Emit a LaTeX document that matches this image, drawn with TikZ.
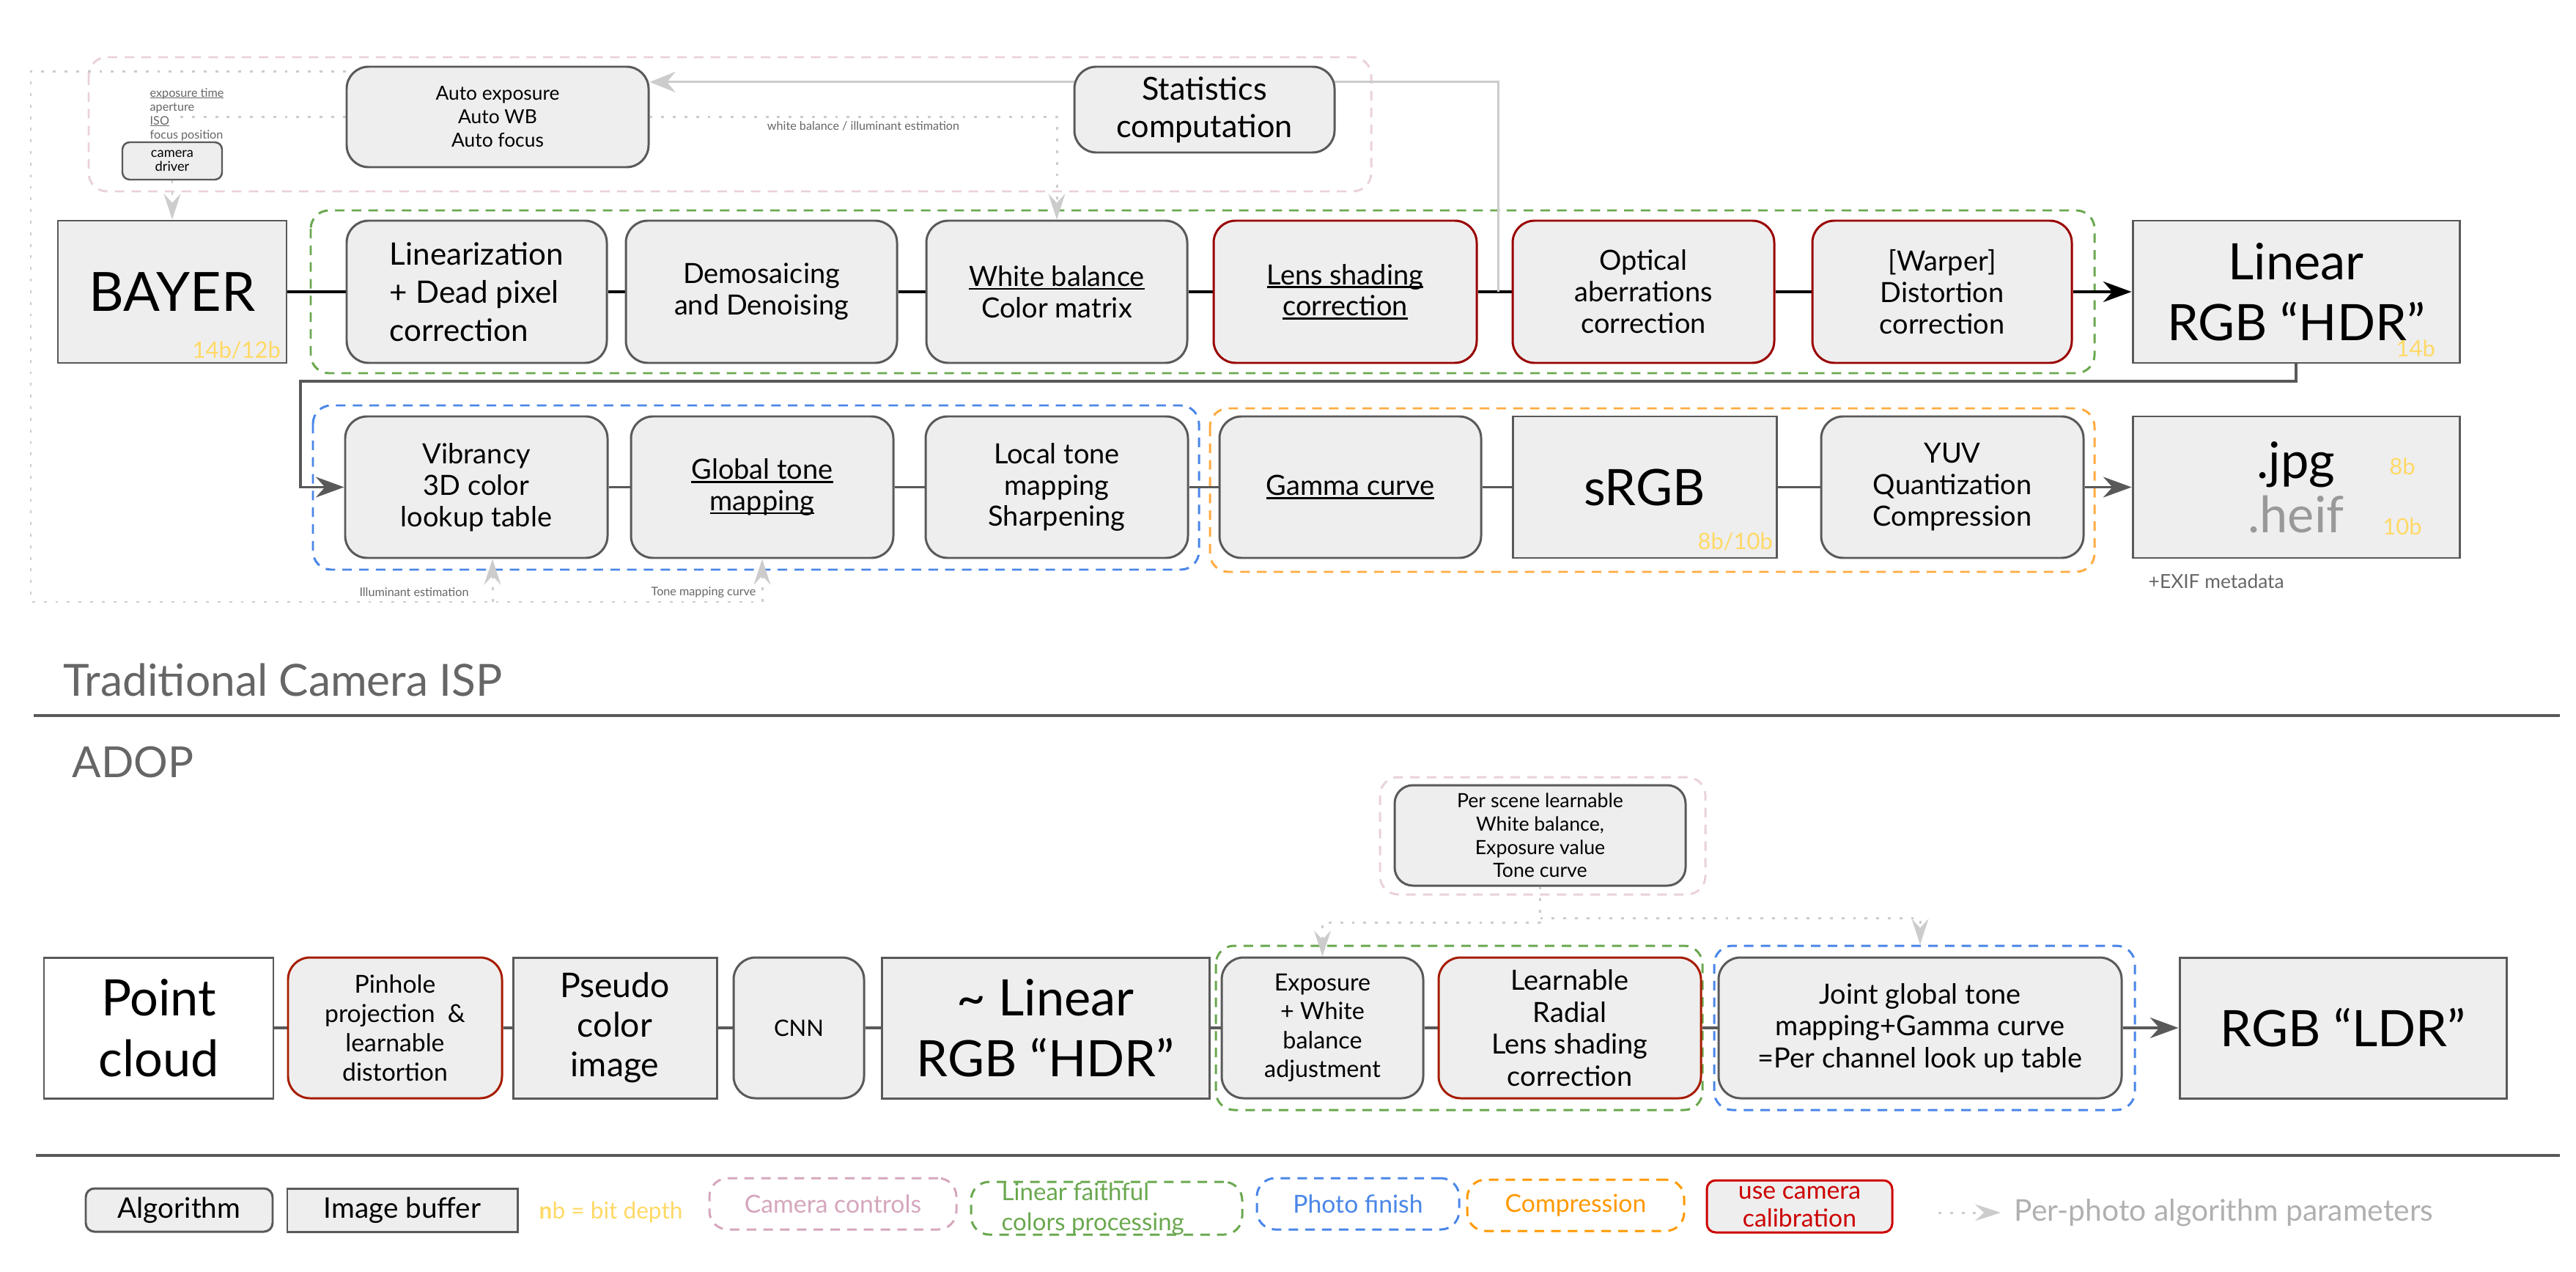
\documentclass[tikz,border=0pt]{standalone}
\usepackage{fontspec}
\setmainfont{Lato}
\usetikzlibrary{positioning,calc,arrows.meta}
\pgfdeclarelayer{bg}
\pgfsetlayers{bg,main}

\definecolor{boxfill}{HTML}{EEEEEE}
\definecolor{boxline}{HTML}{595959}
\definecolor{calred}{HTML}{990000}
\definecolor{calredb}{HTML}{A61C00}
\definecolor{legred}{HTML}{CC0000}
\definecolor{camcol}{HTML}{EAD1DC}
\definecolor{camtxt}{HTML}{D5A6BD}
\definecolor{lincol}{HTML}{6AA84F}
\definecolor{fincol}{HTML}{4A86E8}
\definecolor{cmpcol}{HTML}{FFAB40}
\definecolor{cmptxt}{HTML}{FF9900}
\definecolor{bitcol}{HTML}{FFD966}
\definecolor{parcol}{HTML}{CCCCCC}
\definecolor{partxt}{HTML}{B0B0B0}
\definecolor{txtgray}{HTML}{666666}
\definecolor{heifgray}{HTML}{999999}

\newcommand{\fs}[2]{\fontsize{#1}{#2}\selectfont}
\newsavebox{\undlbox}
\newcommand{\undl}[1]{\sbox\undlbox{#1}\rlap{\rule[-0.13em]{\wd\undlbox}{0.07em}}\usebox\undlbox}

\begin{document}
\begin{tikzpicture}[x=1cm,y=-1cm,
  algo/.style={draw=boxline,fill=boxfill,line width=0.85pt,rounded corners=0.3cm,align=center,inner sep=1pt},
  buf/.style={draw=boxline,fill=boxfill,line width=0.85pt,align=center,inner sep=1pt},
  calib/.style={algo,draw=calred},
  sz/.style 2 args={minimum width=#1cm,minimum height=#2cm},
  grp/.style={line width=0.85pt,dash pattern=on 3.7pt off 2.8pt,rounded corners=0.25cm},
  flow/.style={line width=1.1pt},
  flowhead/.style={-{Stealth[length=11pt,width=8pt]}},
  param/.style={draw=parcol,line width=0.85pt,dash pattern=on 1.1pt off 3.4pt},
  parhead/.style={-{Stealth[length=10pt,width=6.5pt,inset=3.5pt]}},
  bit/.style={text=bitcol,inner sep=0pt,font=\fs{8.8}{10}},
  note/.style={text=txtgray,inner sep=0pt,font=\fs{4.6}{5.4}},
  stdtxt/.style={font=\fs{10.8}{12.2}},
  hdrtxt/.style={font=\fs{19.5}{23.6}}]

\useasboundingbox (0,0) rectangle (35.15,17.35);

\node[algo,sz={4.12}{1.37},font=\fs{7.5}{9.1}] (autoexp) at (6.79,1.595) {Auto exposure\\Auto WB\\Auto focus};
\node[algo,sz={3.55}{1.17},font=\fs{12.3}{14.5}] (stats) at (16.435,1.495) {Statistics\\computation};
\node[algo,rounded corners=0.1cm,line width=0.7pt,sz={1.36}{0.51},font=\fs{5.2}{5.5}] (camdrv) at (2.35,2.195) {camera\\driver};
\node[note,align=left,anchor=west] (expparams) at (2.04,1.56) {\undl{exposure time}\\aperture\\\undl{ISO}\\focus position};
\node[note] (wblbl) at (11.78,1.72) {white balance / illuminant estimation};

\node[buf,sz={3.12}{1.94},font=\fs{21}{24}] (bayer) at (2.35,3.98) {BAYER};
\node[algo,sz={3.55}{1.94},font=\fs{12}{14.8},align=left] (linz) at (6.505,3.98) {Linearization\\+ Dead pixel\\correction};
\node[algo,sz={3.70}{1.94},stdtxt] (demosaic) at (10.39,3.98) {Demosaicing\\and Denoising};
\node[algo,sz={3.56}{1.94},stdtxt] (wb) at (14.42,3.98) {\undl{White balance}\\Color matrix};
\node[calib,sz={3.59}{1.94},stdtxt] (lensshade) at (18.355,3.98) {\undl{Lens shading}\\\undl{correction}};
\node[calib,sz={3.57}{1.94},stdtxt] (optical) at (22.425,3.98) {Optical\\aberrations\\correction};
\node[calib,sz={3.54}{1.94},stdtxt] (warper) at (26.50,3.98) {[Warper]\\Distortion\\correction};
\node[buf,sz={4.46}{1.94},hdrtxt] (linhdr) at (31.33,3.98) {Linear\\RGB “HDR”};

\node[algo,sz={3.58}{1.93},stdtxt] (vib) at (6.50,6.645) {Vibrancy\\3D color\\lookup table};
\node[algo,sz={3.58}{1.93},stdtxt] (gtm) at (10.40,6.645) {\undl{Global tone}\\\undl{mapping}};
\node[algo,sz={3.58}{1.93},stdtxt] (ltm) at (14.42,6.645) {Local tone\\mapping\\Sharpening};
\node[algo,sz={3.57}{1.93},stdtxt] (gamma) at (18.425,6.645) {\undl{Gamma curve}};
\node[buf,sz={3.60}{1.93},hdrtxt] (srgb) at (22.44,6.645) {sRGB};
\node[algo,sz={3.58}{1.93},stdtxt] (yuv) at (26.64,6.645) {YUV\\Quantization\\Compression};
\node[buf,sz={4.46}{1.93},font=\fs{19.5}{21}] (jpg) at (31.33,6.645) {.jpg\\{\color{heifgray}.heif}};

\node[bit,anchor=base east] (bitbayer) at ([xshift=-0.09cm,yshift=0.08cm]bayer.south east) {14b/12b};
\node[bit,anchor=base east] (bithdr) at ([xshift=-0.34cm,yshift=0.10cm]linhdr.south east) {14b};
\node[bit,anchor=base east] (bitsrgb) at ([xshift=-0.06cm,yshift=0.13cm]srgb.south east) {8b/10b};
\node[bit] (bitjpg) at ($(jpg.center)+(1.45,-0.28)$) {8b};
\node[bit] (bitheif) at ($(jpg.center)+(1.45,0.54)$) {10b};
\node[note,font=\fs{7.5}{9},anchor=west] (exif) at (29.31,7.93) {+EXIF metadata};
\node[note] (illumlbl) at (5.65,8.08) {Illuminant estimation};
\node[note] (tonelbl) at (9.60,8.08) {Tone mapping curve};

\node[anchor=base west,inner sep=0pt,text=txtgray,font=\fs{17.2}{20}] (isptitle) at (0.86,9.49) {Traditional Camera ISP};
\node[anchor=base west,inner sep=0pt,text=txtgray,font=\fs{16.6}{20}] (adoptitle) at (0.98,10.60) {ADOP};

\node[algo,rounded corners=0.25cm,sz={3.97}{1.37},font=\fs{7.6}{9}] (perscene) at (21.015,11.395) {Per scene learnable\\White balance,\\Exposure value\\Tone curve};

\node[buf,fill=white,sz={3.13}{1.92},hdrtxt] (ptcloud) at (2.165,14.02) {Point\\cloud};
\node[algo,draw=calredb,sz={2.92}{1.92},font=\fs{9.6}{11.4}] (pinhole) at (5.39,14.02) {Pinhole\\projection \ \&\\learnable\\distortion};
\node[buf,sz={2.78}{1.92},font=\fs{13.2}{15.4}] (pseudo) at (8.39,14.02) {Pseudo\\color\\image};
\node[algo,sz={1.78}{1.92},font=\fs{8.8}{10}] (cnn) at (10.90,14.02) {CNN};
\node[buf,sz={4.47}{1.92},hdrtxt] (linapprox) at (14.265,14.02) {\textasciitilde{} Linear\\RGB “HDR”};
\node[algo,sz={2.75}{1.92},font=\fs{9.2}{11.2}] (expo) at (18.045,14.02) {Exposure\\+ White\\balance\\adjustment};
\node[algo,draw=calredb,sz={3.58}{1.92},font=\fs{10.8}{12.4}] (radial) at (21.42,14.02) {Learnable\\Radial\\Lens shading\\correction};
\node[algo,sz={5.50}{1.92},font=\fs{10.8}{12.4}] (joint) at (26.20,14.02) {Joint global tone\\mapping+Gamma curve\\=Per channel look up table};
\node[buf,sz={4.46}{1.92},hdrtxt] (ldr) at (31.97,14.02) {RGB “LDR”};

\node[algo,rounded corners=0.12cm,sz={2.55}{0.59},font=\fs{11}{13}] (lgalgo) at (2.445,16.505) {Algorithm};
\node[buf,sz={3.14}{0.59},font=\fs{11}{13}] (lgbuf) at (5.49,16.505) {Image buffer};
\node[anchor=west,inner sep=0pt,text=bitcol,font=\fs{9}{11}] (lgbit) at (7.35,16.54) {\textbf{n}b = bit depth};
\node[grp,draw=camtxt,text=camtxt,sz={3.37}{0.70},font=\fs{9.6}{11}] (lgcam) at (11.365,16.42) {Camera controls};
\node[grp,draw=lincol,sz={3.70}{0.72}] (lglin) at (15.10,16.48) {};
\node[anchor=base west,inner sep=0pt,text=lincol,align=left,font=\fs{9.4}{11.4}] (lglintxt) at (13.66,16.78) {Linear faithful\\colors processing};
\node[grp,draw=fincol,text=fincol,sz={2.76}{0.70},font=\fs{9.6}{11}] (lgfin) at (18.53,16.42) {Photo finish};
\node[grp,draw=cmptxt,text=cmptxt,sz={2.96}{0.70},font=\fs{9.6}{11}] (lgcmp) at (21.50,16.44) {Compression};
\node[algo,draw=legred,text=legred,rounded corners=0.12cm,inner ysep=0pt,sz={2.53}{0.71},font=\fs{9.6}{10.8}] (lgcal) at (24.555,16.455) {use camera\\calibration};
\node[anchor=west,inner sep=0pt,text=partxt,font=\fs{11.6}{13}] (lgpar) at (27.48,16.54) {Per-photo algorithm parameters};
\coordinate (lgpar0) at (26.45,16.54);

\coordinate (statstap) at ($(lensshade.east)!0.6!(optical.west)$);
\coordinate (aein) at ($(autoexp.north east)!0.16!(autoexp.south east)$);
\coordinate (aetop) at ($(autoexp.north west)!0.06!(autoexp.south west)$);
\coordinate (lpcorner) at (0.42,8.21);
\coordinate (ilpt) at ($(vib.south)+(0.22,0)$);
\coordinate (isoend) at (2.42,1.595);
\coordinate (retA) at (4.10,5.20);
\coordinate (psdown) at ($(perscene.south)+(0,0.43)$);
\coordinate (psleft) at ($(perscene.south)+(0,0.49)$);

\begin{pgfonlayer}{bg}
\draw[grp,draw=camcol] (1.21,0.78) rectangle (18.71,2.61);
\draw[grp,draw=lincol] (4.24,2.87) rectangle (28.58,5.09);
\draw[grp,draw=fincol] (4.27,5.53) rectangle (16.36,7.77);
\draw[grp,draw=cmpcol] (16.51,5.57) rectangle (28.58,7.80);
\draw[grp,draw=camcol] (18.83,10.60) rectangle (23.27,12.20);
\draw[grp,draw=lincol] (16.59,12.90) rectangle (23.23,15.14);
\draw[grp,draw=fincol] (23.39,12.90) rectangle (29.13,15.14);

\draw[draw=boxline,line width=1pt] (0.46,9.76) -- (34.93,9.76);
\draw[draw=boxline,line width=1pt] (0.49,15.76) -- (34.93,15.76);

\foreach \a/\b in {bayer/linz,linz/demosaic,demosaic/wb,wb/lensshade,lensshade/optical,optical/warper}
  {\draw[flow] (\a) -- (\b);}
\draw[flow,flowhead] (warper) -- (linhdr);

\foreach \a/\b in {vib/gtm,gtm/ltm,ltm/gamma,gamma/srgb,srgb/yuv}
  {\draw[flow,draw=boxline] (\a) -- (\b);}
\draw[flow,draw=boxline,flowhead] (yuv) -- (jpg);

\foreach \a/\b in {ptcloud/pinhole,pinhole/pseudo,pseudo/cnn,cnn/linapprox,linapprox/expo,expo/radial,radial/joint}
  {\draw[flow,draw=boxline] (\a) -- (\b);}
\draw[flow,draw=boxline,flowhead] (joint) -- (ldr);

\draw[flow,draw=boxline,line width=0.9pt,flowhead] (linhdr.south) |- (retA) |- (vib.west);
\draw[draw=parcol,line width=0.85pt,-{Stealth[length=10pt,width=8pt]}] (statstap) |- (aein);

\draw[param,parhead] (aetop) -| (lpcorner) -| (gtm.south);
\draw[param,parhead] (ilpt |- lpcorner) -- (ilpt);
\draw[param] (autoexp.west) -- (isoend);
\draw[param,parhead] (autoexp.east) -| (wb.north);
\draw[param,parhead] (camdrv.south) -- (bayer.north);

\draw[param] (perscene.south) -- (psleft);
\draw[param,parhead,shorten >=0.16cm] (psdown) -| (joint.north);
\draw[param,parhead] (psleft) -| (expo.north);

\draw[param,parhead] (lgpar0) -- ([xshift=-0.18cm]lgpar.west);
\end{pgfonlayer}

\end{tikzpicture}
\end{document}
